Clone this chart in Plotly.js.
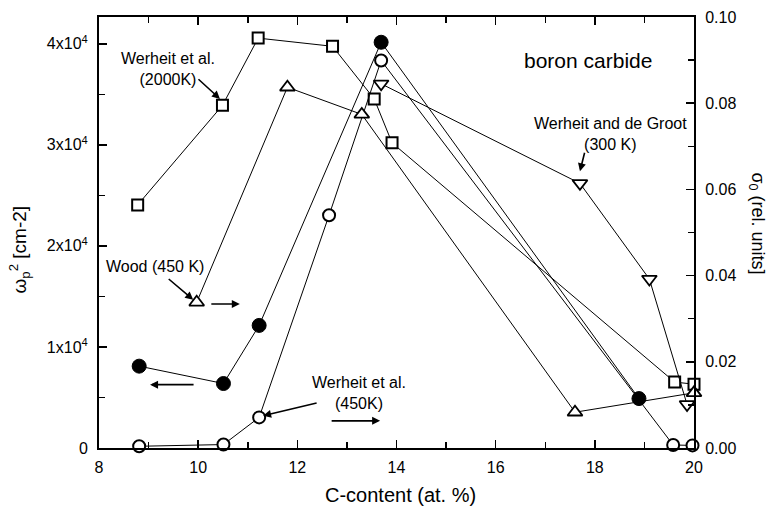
<!DOCTYPE html>
<html>
<head>
<meta charset="utf-8">
<script src="https://cdn.plot.ly/plotly-3.0.1.min.js"></script>
<style>html,body{margin:0;padding:0;background:#fff;}#chart{width:773px;height:508px;}</style>
</head>
<body>
<div id="chart"></div>
<script>
// Werheit et al. (2000K) - squares (right axis, sigma0)
const sqX = [8.78, 10.49, 11.21, 12.71, 13.55, 13.91, 19.61, 20.0];
const sqY = [0.0564, 0.0795, 0.0951, 0.0932, 0.0810, 0.0708, 0.0153, 0.0148];
// filled circles - omega_p^2 (left axis)
const fcX = [8.81, 10.51, 11.23, 13.69, 18.89];
const fcY = [8100, 6380, 12130, 40150, 4890];
// Werheit et al. (450K) - open circles (right axis)
const ocX = [8.81, 10.51, 11.23, 12.64, 13.69, 19.58, 19.97];
const ocY = [0.0004, 0.0008, 0.0071, 0.0540, 0.0899, 0.0007, 0.0006];
// Wood (450 K) - up triangles (right axis)
const wdX = [9.97, 11.80, 13.30, 17.60, 20.0];
const wdY = [0.0338, 0.0837, 0.0774, 0.0083, 0.0128];
// Werheit and de Groot (300 K) - down triangles (right axis)
const dgX = [13.69, 17.70, 19.10, 19.86];
const dgY = [0.0845, 0.0614, 0.0392, 0.0101];

const leftTickVals = [0, 10000, 20000, 30000, 40000];
const leftTickText = ["0", "1x10<sup>4</sup>", "2x10<sup>4</sup>", "3x10<sup>4</sup>", "4x10<sup>4</sup>"];
const leftMinorVals = [5000, 15000, 25000, 35000];

const FONT = "Liberation Sans, Arial, Helvetica, sans-serif";
const lineStyle = {color: "black", width: 1};

const traces = [
  {x: fcX, y: fcY, yaxis: "y", mode: "lines+markers", line: lineStyle, cliponaxis: false,
   marker: {symbol: "circle", size: 14, color: "black", line: {color: "black", width: 1}}},
  {x: sqX, y: sqY, yaxis: "y2", mode: "lines+markers", line: lineStyle, cliponaxis: false,
   marker: {symbol: "square", size: 11, color: "white", line: {color: "black", width: 2}}},
  {x: ocX, y: ocY, yaxis: "y2", mode: "lines+markers", line: lineStyle, cliponaxis: false,
   marker: {symbol: "circle", size: 12, color: "white", line: {color: "black", width: 2}}},
  {x: wdX, y: wdY, yaxis: "y2", mode: "lines+markers", line: lineStyle, cliponaxis: false,
   marker: {symbol: "triangle-up", size: 13, color: "white", line: {color: "black", width: 1.8}}},
  {x: dgX, y: dgY, yaxis: "y2", mode: "lines+markers", line: lineStyle, cliponaxis: false,
   marker: {symbol: "triangle-down", size: 13, color: "white", line: {color: "black", width: 1.8}}}
];

function arrow(x, y, ax, ay) {
  return {x: x, y: y, xref: "x", yref: "y2", ax: ax, ay: ay, text: "", showarrow: true,
          arrowhead: 2, arrowsize: 1, arrowwidth: 1.6, arrowcolor: "black"};
}
function label(x, y, text, size) {
  return {x: x, y: y, xref: "x", yref: "y2", text: text, showarrow: false,
          font: {family: FONT, size: size || 16, color: "black"}, xanchor: "center", yanchor: "middle", align: "center"};
}

const annotations = [
  label(9.39, 0.088, "Werheit et al.<br>(2000K)"),
  label(17.86, 0.0899, "boron carbide", 21),
  label(18.31, 0.0729, "Werheit and de Groot<br>(300 K)"),
  label(9.13, 0.0421, "Wood (450 K)"),
  label(13.24, 0.0128, "Werheit et al.<br>(450K)"),
  arrow(10.44, 0.081, -23, -21),
  arrow(17.70, 0.0642, 5, -20),
  arrow(9.90, 0.0344, -26, -22),
  arrow(10.84, 0.0334, -30, 0),
  arrow(9.03, 0.0147, 45, 0),
  arrow(11.31, 0.0075, 55, -13),
  arrow(13.67, 0.0063, -50, 0),
  {x: 0.506, y: -0.11, xref: "paper", yref: "paper", text: "C-content (at. %)", showarrow: false,
   font: {family: FONT, size: 20, color: "black"}, xanchor: "center", yanchor: "middle"},
  {x: -0.133, y: 0.46, xref: "paper", yref: "paper", text: "ω<sub>p</sub><sup>2</sup> [cm-2]", showarrow: false,
   textangle: -90, font: {family: FONT, size: 19, color: "black"}, xanchor: "center", yanchor: "middle"},
  {x: 1.105, y: 0.52, xref: "paper", yref: "paper", text: "σ<sub>0</sub> (rel. units]", showarrow: false,
   textangle: 90, font: {family: FONT, size: 18, color: "black"}, xanchor: "center", yanchor: "middle"}
];

const layout = {
  width: 773, height: 508,
  margin: {l: 99, r: 79, t: 17, b: 60, pad: 0},
  paper_bgcolor: "white", plot_bgcolor: "white",
  showlegend: false,
  font: {family: FONT, size: 16, color: "black"},
  xaxis: {range: [8, 20], tickmode: "linear", tick0: 8, dtick: 2, showgrid: false, zeroline: false,
          showline: true, linecolor: "black", linewidth: 2, mirror: "ticks",
          ticks: "inside", ticklen: 8, tickwidth: 1.5, tickcolor: "black",
          ticklabelstandoff: 4,
          minor: {dtick: 1, ticks: "inside", ticklen: 6, tickwidth: 1.5, tickcolor: "black", showgrid: false},
          tickfont: {family: FONT, size: 16}},
  yaxis: {range: [0, 42650], tickmode: "array", tickvals: leftTickVals, ticktext: leftTickText,
          showgrid: false, zeroline: false, showline: true, linecolor: "black", linewidth: 2,
          ticks: "inside", ticklen: 8, tickwidth: 1.5, tickcolor: "black", ticklabelstandoff: 6,
          minor: {tickmode: "array", tickvals: leftMinorVals, ticks: "inside", ticklen: 6, tickwidth: 1.5, tickcolor: "black", showgrid: false},
          tickfont: {family: FONT, size: 16}},
  yaxis2: {range: [0, 0.1], overlaying: "y", side: "right", tickmode: "linear", tick0: 0, dtick: 0.02,
           tickformat: ".2f", showgrid: false, zeroline: false, showline: true, linecolor: "black", linewidth: 2,
           ticks: "inside", ticklen: 8, tickwidth: 1.5, tickcolor: "black", ticklabelstandoff: 6,
           minor: {dtick: 0.01, ticks: "inside", ticklen: 6, tickwidth: 1.5, tickcolor: "black", showgrid: false},
           tickfont: {family: FONT, size: 16}},
  annotations: annotations
};

Plotly.newPlot("chart", traces, layout, {staticPlot: true, displayModeBar: false});
</script>
</body>
</html>
